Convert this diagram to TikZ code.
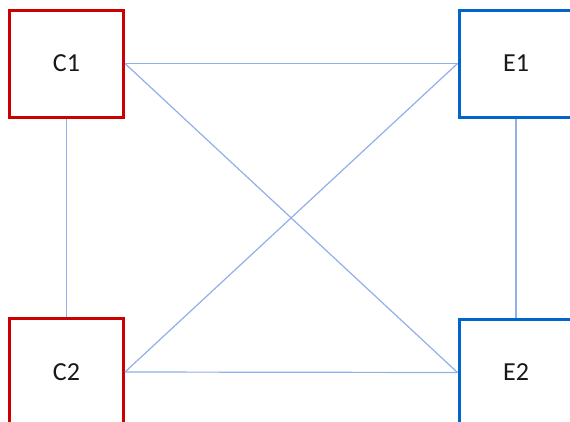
\documentclass[tikz,border=0pt]{standalone}
\usepackage{fontspec}
\setmainfont{Carlito}
\definecolor{cred}{RGB}{204,0,0}
\definecolor{cblue}{RGB}{0,102,204}
\definecolor{clink}{RGB}{145,175,232}
\begin{document}
\begin{tikzpicture}[x=1pt,y=-1pt,
  box/.style={draw, line width=3pt, fill=white, minimum width=114pt, minimum height=107pt, inner sep=0pt, font=\fontsize{26}{30}\selectfont, text=black!90},
  cbox/.style={box, draw=cred},
  ebox/.style={box, draw=cblue},
  link/.style={draw=clink, line width=1.2pt}]
\clip (0,0) rectangle (570,421);
\node[cbox] (C1) at (66.5,63.5) {C1};
\node[ebox] (E1) at (516,63.5) {E1};
\node[cbox] (C2) at (66.5,372) {C2};
\node[ebox] (E2) at (516,372.5) {E2};
\path[link] (C1.east) -- (E1.west);
\path[link] (C2.east) -- (E2.west);
\path[link] (C1.east) -- (E2.west);
\path[link] (C2.east) -- (E1.west);
\path[link] (C1.south) -- (C2.north);
\path[link] (E1.south) -- (E2.north);
\end{tikzpicture}
\end{document}
